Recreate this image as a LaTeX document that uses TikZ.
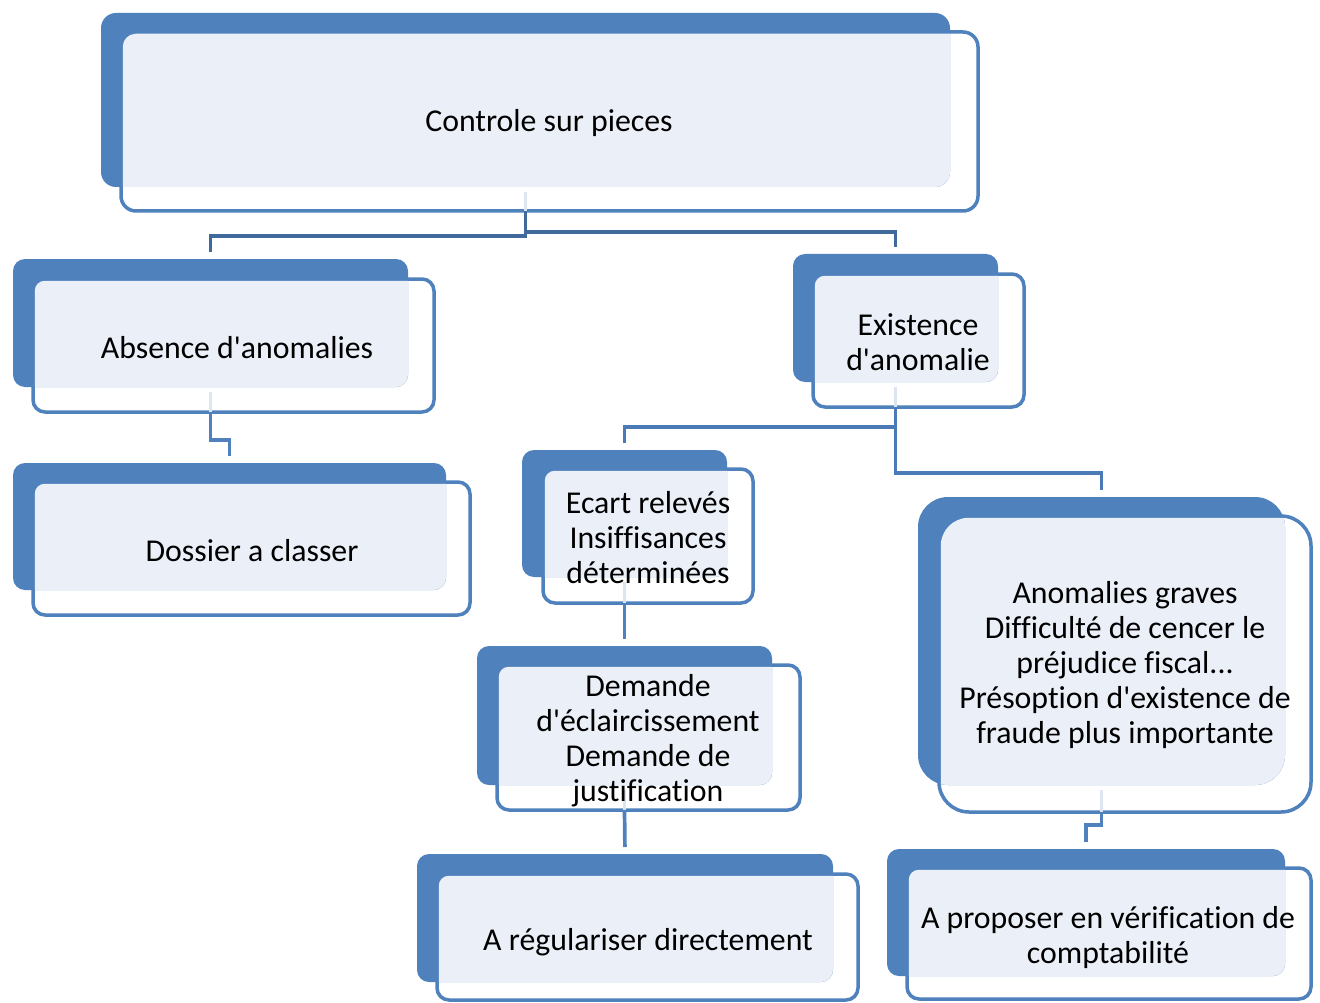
\documentclass[tikz,border=0pt]{standalone}
\usepackage{fontspec}
\setmainfont{Carlito}[Ligatures={NoCommon}]
\usetikzlibrary{calc}
\definecolor{bblue}{HTML}{4F81BD}
\definecolor{lightb}{HTML}{EBEFF7}
\definecolor{cdark}{HTML}{40699C}
\definecolor{cmid}{HTML}{4A7BB7}
\definecolor{ghostc}{HTML}{DDE5F1}
\newcommand{\ap}{\textquotesingle}
\tikzset{
  outl/.style={draw=bblue, line width=3.5pt, fill=white, inner sep=0pt, outer sep=0pt, rounded corners=\rr pt},
  backb/.style={fill=bblue, inner sep=0pt, outer sep=0pt, rounded corners=\rr pt},
  txt/.style={font=\fontsize{31.8}{35}\selectfont, align=center, inner sep=0pt, text=black},
  conn/.style={line width=3.7pt, shorten >=7pt},
  ghostline/.style={draw=ghostc, line width=3.7pt},
}
\def\rr{12}
% #1 name, #2-#5 back box, #6-#9 outline box (pixel coordinates)
\newcommand{\smbox}[9]{%
  \node[outl, minimum width={(#8-#6)*1pt}, minimum height={(#9-#7)*1pt}] (#1O) at ({(#6+#8)/2},{(#7+#9)/2}) {};
  \node[backb, minimum width={(#4-#2)*1pt}, minimum height={(#5-#3)*1pt}] (#1) at ({(#2+#4)/2},{(#3+#5)/2}) {};
  \begin{scope}
    \clip[rounded corners=\rr pt] (#1.north west) rectangle (#1.south east);
    \fill[lightb, rounded corners={(\rr-2)*1pt}] ($(#1O.north west)+(1.75,1.75)$) rectangle ($(#1O.south east)+(-1.75,-1.75)$);
  \end{scope}
}
\begin{document}
\begin{tikzpicture}[x=1pt,y=-1pt]
\fill[white] (0,0) rectangle (1320,1003);
\useasboundingbox (0,0) rectangle (1320,1003);

\def\rr{15}
\smbox{top}{101}{13}{950}{187}{121}{32}{978}{211}
\def\rr{12}
\smbox{abs}{13}{259}{408}{387}{33}{279}{434}{412}
\smbox{dos}{13}{463}{446}{590}{33}{482}{470}{615}
\smbox{exi}{793}{254}{998}{382}{813}{274}{1024}{407}
\smbox{eca}{522}{450}{727}{577}{543}{469}{753}{603}
\smbox{dem}{477}{646}{772}{785}{497}{665}{800}{810}
\smbox{reg}{417}{854}{833}{982}{437}{874}{858}{1000}
\def\rr{30}
\smbox{ano}{918}{497}{1285}{785}{939}{516}{1311}{812}
\def\rr{12}
\smbox{pro}{887}{849}{1285}{976}{907}{868}{1311}{999}

% ghost stubs
\foreach \b in {top,abs,exi,eca,dem,ano}
  \draw[ghostline] ([yshift=-5pt]\b.south) -- (\b.south |- \b O.south);

% texts
\node[txt] (topT) at (549,123.5) {Controle sur pieces};
\node[txt] (absT) at (237,347.5) {Absence d\ap anomalies};
\node[txt] (dosT) at (252,550.5) {Dossier a classer};
\node[txt] (exiT) at (918,342.5) {Existence\\d\ap anomalie};
\node[txt] (ecaT) at (648,537.5) {Ecart relevés\\Insiffisances\\déterminées};
\node[txt] (demT) at (648,740.5) {Demande\\d\ap éclaircissement\\Demande de\\justification};
\node[txt] (regT) at (648,942.5) {A régulariser directement};
\node[txt] (anoT) at (1125,665.5) {Anomalies graves\\Difficulté de cencer le\\préjudice fiscal...\\Présoption d\ap existence de\\fraude plus importante};
\node[txt] (proT) at (1108,937.5) {A proposer en vérification de\\comptabilité};

% connectors
\draw[conn, cdark] (top.south |- topO.south) -- (top.south |- 0,236) -| (abs.north);
\draw[conn, cdark] (top.south |- topO.south) -- (top.south |- 0,232) -| (exi.north);
\draw[conn, bblue] (abs.south |- absO.south) -- (abs.south |- 0,440) -| (dos.north);
\draw[conn, cmid] (exi.south |- exiO.south) -- (exi.south |- 0,427) -| (eca.north);
\draw[conn, cmid] (exi.south |- exiO.south) -- (exi.south |- 0,473) -| (ano.north);
\draw[conn, bblue] (eca.south |- ecaO.south) -- (dem.north);
\draw[conn, bblue] (dem.south |- demO.south) -- (reg.north);
\draw[conn, bblue] (ano.south |- anoO.south) -- (ano.south |- 0,825) -| (pro.north);
\end{tikzpicture}
\end{document}
